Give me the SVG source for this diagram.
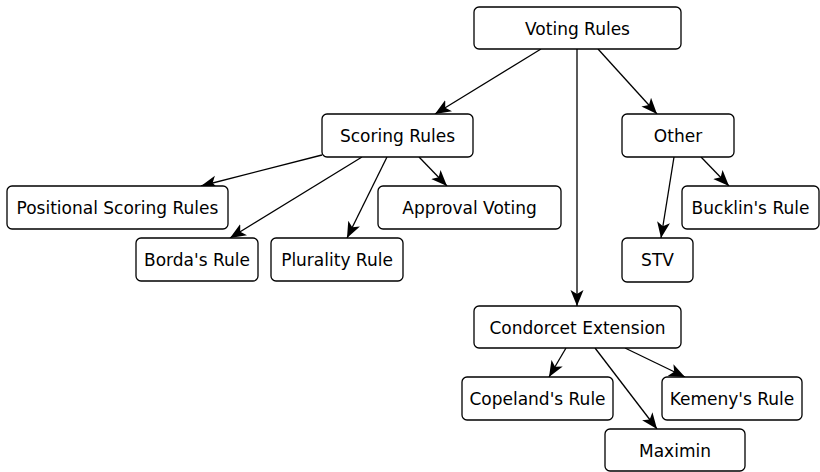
<svg xmlns="http://www.w3.org/2000/svg" width="820" height="472" viewBox="0 0 820 472">
<style>
.n rect{fill:#fff;stroke:#000;stroke-width:1.3}
.n text{font-family:"DejaVu Sans",sans-serif;font-size:17px;text-anchor:middle;fill:#000}
.e line{stroke:#000;stroke-width:1.3;marker-end:url(#a)}
</style>
<defs>
<marker id="a" markerUnits="userSpaceOnUse" markerWidth="17" markerHeight="14" refX="16" refY="7" orient="auto" viewBox="0 0 17 14">
<path d="M0,0.5 L16,7 L0,13.5 L4,7 z" fill="#000"/>
</marker>
</defs>
<g id="edges" class="e">
<line x1="541" y1="49" x2="435" y2="114"/>
<line x1="577" y1="49" x2="577" y2="306"/>
<line x1="598" y1="49" x2="657" y2="114"/>
<line x1="322" y1="155" x2="201" y2="186"/>
<line x1="362" y1="157" x2="230" y2="238"/>
<line x1="387" y1="157" x2="347" y2="238"/>
<line x1="419" y1="157" x2="447" y2="186"/>
<line x1="674" y1="157" x2="661" y2="238"/>
<line x1="701" y1="157" x2="729" y2="186"/>
<line x1="566" y1="348" x2="549" y2="377"/>
<line x1="595" y1="348" x2="657" y2="429"/>
<line x1="625" y1="348" x2="685" y2="377"/>
</g>
<g id="voting" class="n"><rect x="474" y="7" width="207" height="42" rx="5"/><text x="577.5" y="34.5">Voting Rules</text></g>
<g id="scoring" class="n"><rect x="322" y="114" width="151" height="43" rx="5"/><text x="397.5" y="142">Scoring Rules</text></g>
<g id="other" class="n"><rect x="622" y="114" width="112" height="43" rx="5"/><text x="678" y="142">Other</text></g>
<g id="positional" class="n"><rect x="7" y="186" width="221" height="43" rx="5"/><text x="117.5" y="214">Positional Scoring Rules</text></g>
<g id="approval" class="n"><rect x="378" y="186" width="183" height="43" rx="5"/><text x="469.5" y="214">Approval Voting</text></g>
<g id="bucklin" class="n"><rect x="682" y="186" width="137" height="43" rx="5"/><text x="750.5" y="214">Bucklin's Rule</text></g>
<g id="borda" class="n"><rect x="136" y="238" width="122" height="43" rx="5"/><text x="197" y="266">Borda's Rule</text></g>
<g id="plurality" class="n"><rect x="271" y="238" width="132" height="43" rx="5"/><text x="337" y="266">Plurality Rule</text></g>
<g id="stv" class="n"><rect x="622" y="238" width="71" height="44" rx="5"/><text x="657.5" y="266">STV</text></g>
<g id="condorcet" class="n"><rect x="474" y="306" width="207" height="42" rx="5"/><text x="577.5" y="333.5">Condorcet Extension</text></g>
<g id="copeland" class="n"><rect x="462" y="377" width="151" height="43" rx="5"/><text x="537.5" y="405">Copeland's Rule</text></g>
<g id="kemeny" class="n"><rect x="662" y="377" width="140" height="43" rx="5"/><text x="732" y="405">Kemeny's Rule</text></g>
<g id="maximin" class="n"><rect x="605" y="429" width="140" height="42" rx="5"/><text x="675" y="457">Maximin</text></g>
</svg>
